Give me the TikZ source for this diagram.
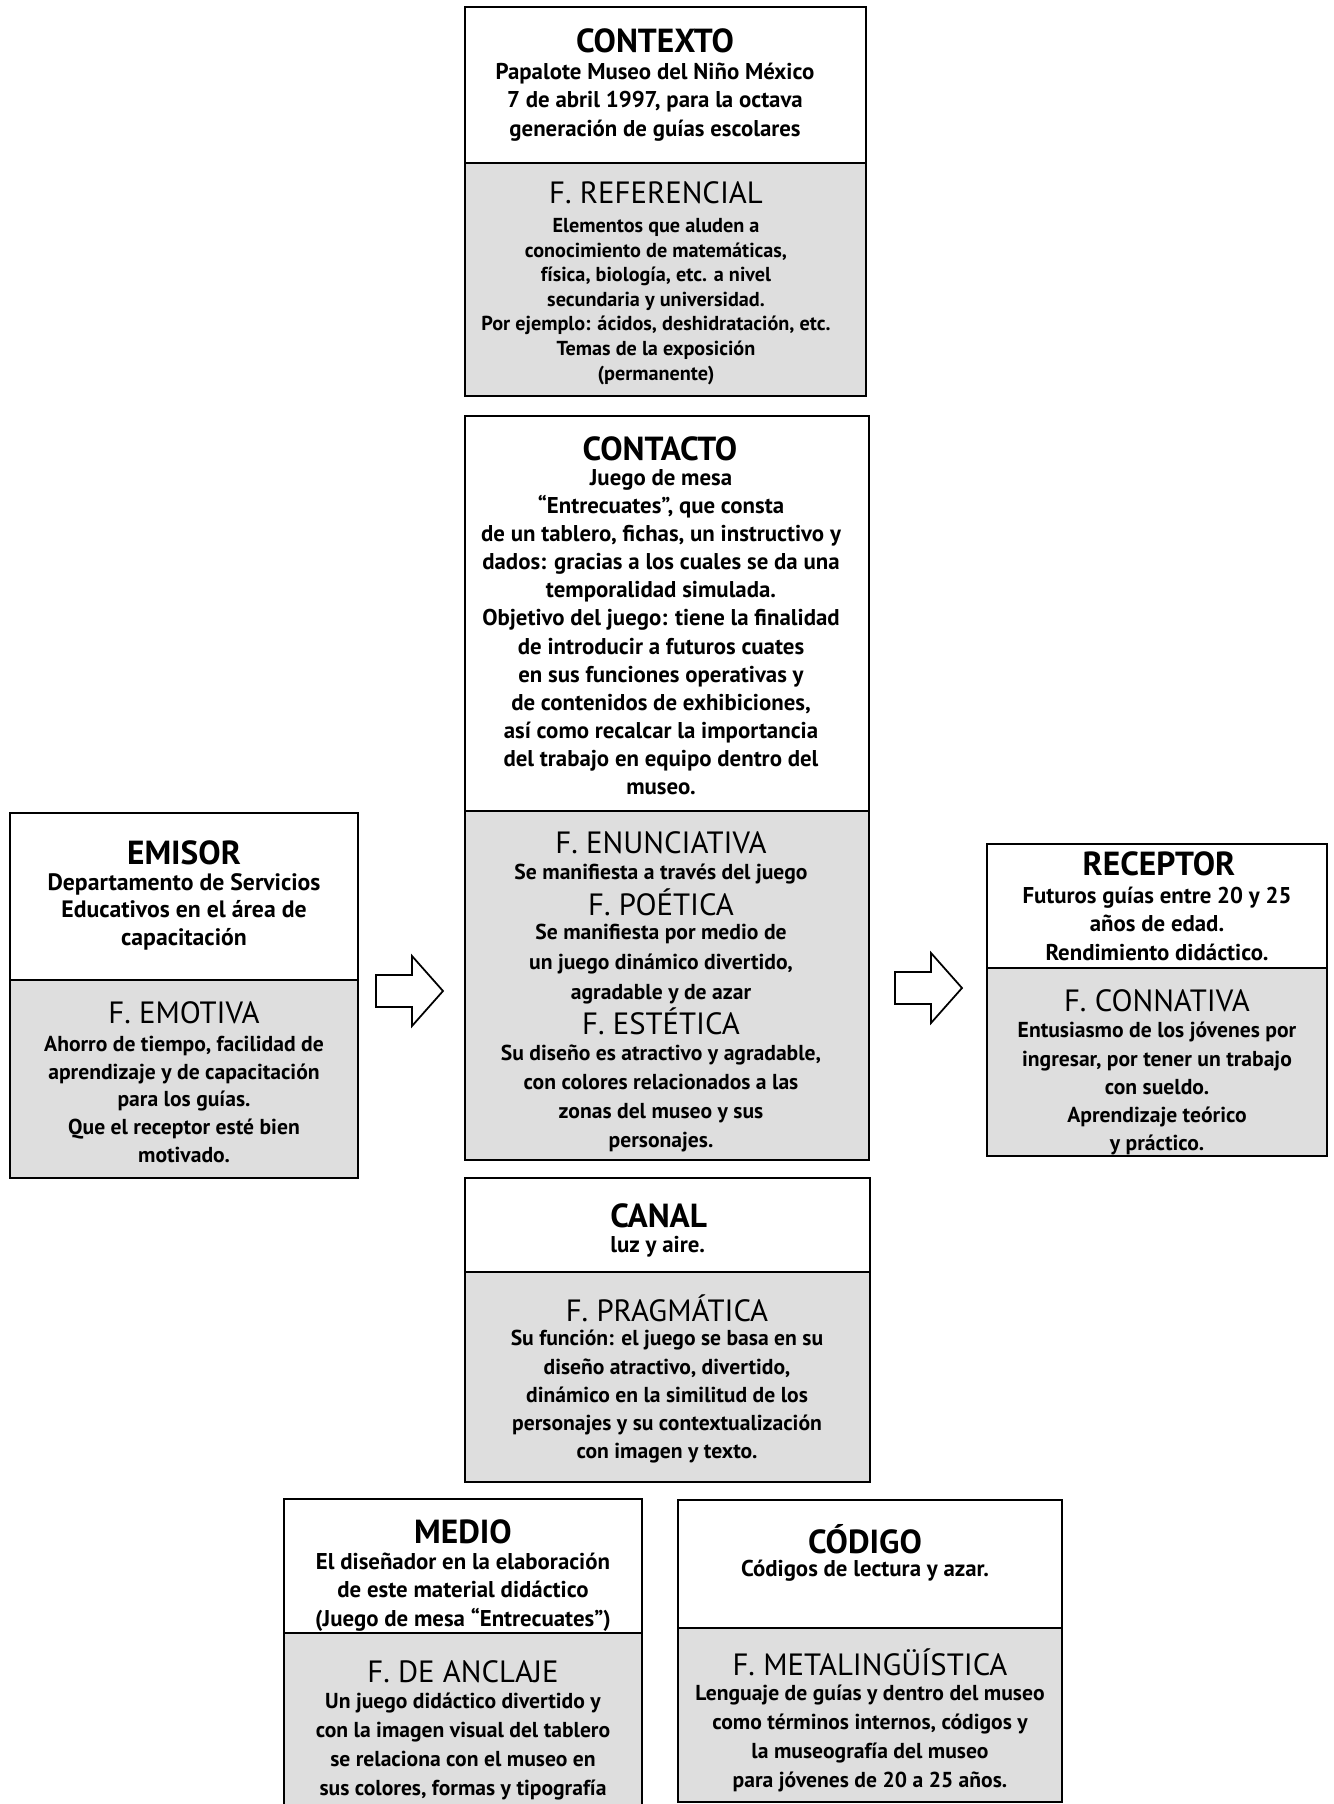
\documentclass[tikz,border=0pt]{standalone}
\usepackage{fontspec}
\setmainfont{PT Sans}
\usetikzlibrary{positioning}

\definecolor{grisfondo}{gray}{0.87}

% caja: x1, y1, x2, y divisor, y2
\newcommand\caja[5]{%
  \fill[grisfondo] (#1,#4) rectangle (#3,#5);
  \draw[borde] (#1,#2) rectangle (#3,#5);
  \draw[divisor] (#1,#4) -- (#3,#4);}
\def\flecha#1{\draw[borde, line join=miter] #1 ++(0,-16) -- ++(36,0) -- ++(0,-19)
  -- ++(31,35) -- ++(-31,35) -- ++(0,-19) -- ++(-36,0) -- cycle;}

\begin{document}
\begin{tikzpicture}[x=0.02cm, y=-0.02cm,
  borde/.style={line width=1pt},
  divisor/.style={line width=0.8pt},
  titulo/.style={font=\fontsize{19}{21}\selectfont\bfseries, inner sep=0pt},
  texto/.style={font=\fontsize{13}{16}\selectfont\bfseries, align=center, inner sep=0pt, anchor=north},
  funcion/.style={font=\fontsize{17.5}{19}\selectfont, inner sep=0pt},
  cuerpo/.style={font=\fontsize{12.3}{16}\selectfont\bfseries, align=center, inner sep=0pt, anchor=north}]

\useasboundingbox (0,0) rectangle (1334,1804);

% cajas
\caja{465}{7}{866}{163}{396}
\caja{465}{416}{869}{811}{1160}
\caja{10}{813}{358}{980}{1178}
\caja{987}{844}{1327}{968}{1156}
\caja{465}{1178}{870}{1272}{1482}
\caja{284}{1499}{642}{1633}{1806}
\caja{678}{1500}{1062}{1628}{1802}

% contexto
\node[titulo] (contexto) at (655,41) {CONTEXTO};
\node[texto] (contexto-txt) at (655,63) {Papalote Museo del Niño México\\7 de abril 1997, para la octava\\generación de guías escolares};
\node[funcion] (referencial) at (656,193) {F. REFERENCIAL};
\node[cuerpo, font=\fontsize{11.5}{14}\selectfont\bfseries] (referencial-txt) at (656,218) {Elementos que aluden a\\conocimiento de matemáticas,\\física, biología, etc. a nivel\\secundaria y universidad.\\Por ejemplo: ácidos, deshidratación, etc.\\Temas de la exposición\\(permanente)};

% contacto
\node[titulo] (contacto) at (660,449) {CONTACTO};
\node[texto] (contacto-txt) at (661,469) {Juego de mesa\\``Entrecuates'', que consta\\de un tablero, fichas, un instructivo y\\dados: gracias a los cuales se da una\\temporalidad simulada.\\Objetivo del juego: tiene la finalidad\\de introducir a futuros cuates\\en sus funciones operativas y\\de contenidos de exhibiciones,\\así como recalcar la importancia\\del trabajo en equipo dentro del\\museo.};
\node[funcion] (enunciativa) at (661,843) {F. ENUNCIATIVA};
\node[cuerpo] (enunciativa-txt) at (661,864) {Se manifiesta a través del juego};
\node[funcion] (poetica) at (661,902) {F. POÉTICA};
\node[cuerpo, font=\fontsize{12.3}{17}\selectfont\bfseries] (poetica-txt) at (661,924) {Se manifiesta por medio de\\un juego dinámico divertido,\\agradable y de azar};
\node[funcion] (estetica) at (661,1021) {F. ESTÉTICA};
\node[cuerpo, font=\fontsize{12.3}{16.5}\selectfont\bfseries] (estetica-txt) at (661,1045) {Su diseño es atractivo y agradable,\\con colores relacionados a las\\zonas del museo y sus\\personajes.};

% emisor
\node[titulo] (emisor) at (184,853) {EMISOR};
\node[texto, font=\fontsize{13.5}{15.6}\selectfont\bfseries] (emisor-txt) at (184,873) {Departamento de Servicios\\Educativos en el área de\\capacitación};
\node[funcion] (emotiva) at (184,1013) {F. EMOTIVA};
\node[cuerpo, font=\fontsize{12.3}{15.7}\selectfont\bfseries] (emotiva-txt) at (184,1036) {Ahorro de tiempo, facilidad de\\aprendizaje y de capacitación\\para los guías.\\Que el receptor esté bien\\motivado.};

% receptor
\node[titulo] (receptor) at (1159,864) {RECEPTOR};
\node[texto] (receptor-txt) at (1157,887) {Futuros guías entre 20 y 25\\años de edad.\\Rendimiento didáctico.};
\node[funcion] (connativa) at (1157,1001) {F. CONNATIVA};
\node[cuerpo] (connativa-txt) at (1157,1022) {Entusiasmo de los jóvenes por\\ingresar, por tener un trabajo\\con sueldo.\\Aprendizaje teórico\\y práctico.};

% canal
\node[titulo, anchor=west] (canal) at (610,1216) {CANAL};
\node[texto, anchor=west] (canal-txt) at (610,1247) {luz y aire.};
\node[funcion] (pragmatica) at (667,1308) {F. PRAGMÁTICA};
\node[cuerpo] (pragmatica-txt) at (667,1330) {Su función: el juego se basa en su\\diseño atractivo, divertido,\\dinámico en la similitud de los\\personajes y su contextualización\\con imagen y texto.};

% medio
\node[titulo] (medio) at (463,1532) {MEDIO};
\node[texto] (medio-txt) at (463,1553) {El diseñador en la elaboración\\de este material didáctico\\(Juego de mesa ``Entrecuates'')};
\node[funcion] (anclaje) at (463,1672) {F. DE ANCLAJE};
\node[cuerpo, font=\fontsize{12.3}{16.4}\selectfont\bfseries] (anclaje-txt) at (463,1693) {Un juego didáctico divertido y\\con la imagen visual del tablero\\se relaciona con el museo en\\sus colores, formas y tipografía};

% codigo
\node[titulo] (codigo) at (865,1539) {CÓDIGO};
\node[texto] (codigo-txt) at (865,1560) {Códigos de lectura y azar.};
\node[funcion] (metalinguistica) at (870,1662) {F. METALINGÜÍSTICA};
\node[cuerpo, font=\fontsize{12.3}{16.4}\selectfont\bfseries] (metalinguistica-txt) at (870,1685) {Lenguaje de guías y dentro del museo\\como términos internos, códigos y\\la museografía del museo\\para jóvenes de 20 a 25 años.};

% flechas
\flecha{(376,991)}
\flecha{(895,988)}
\end{tikzpicture}
\end{document}
